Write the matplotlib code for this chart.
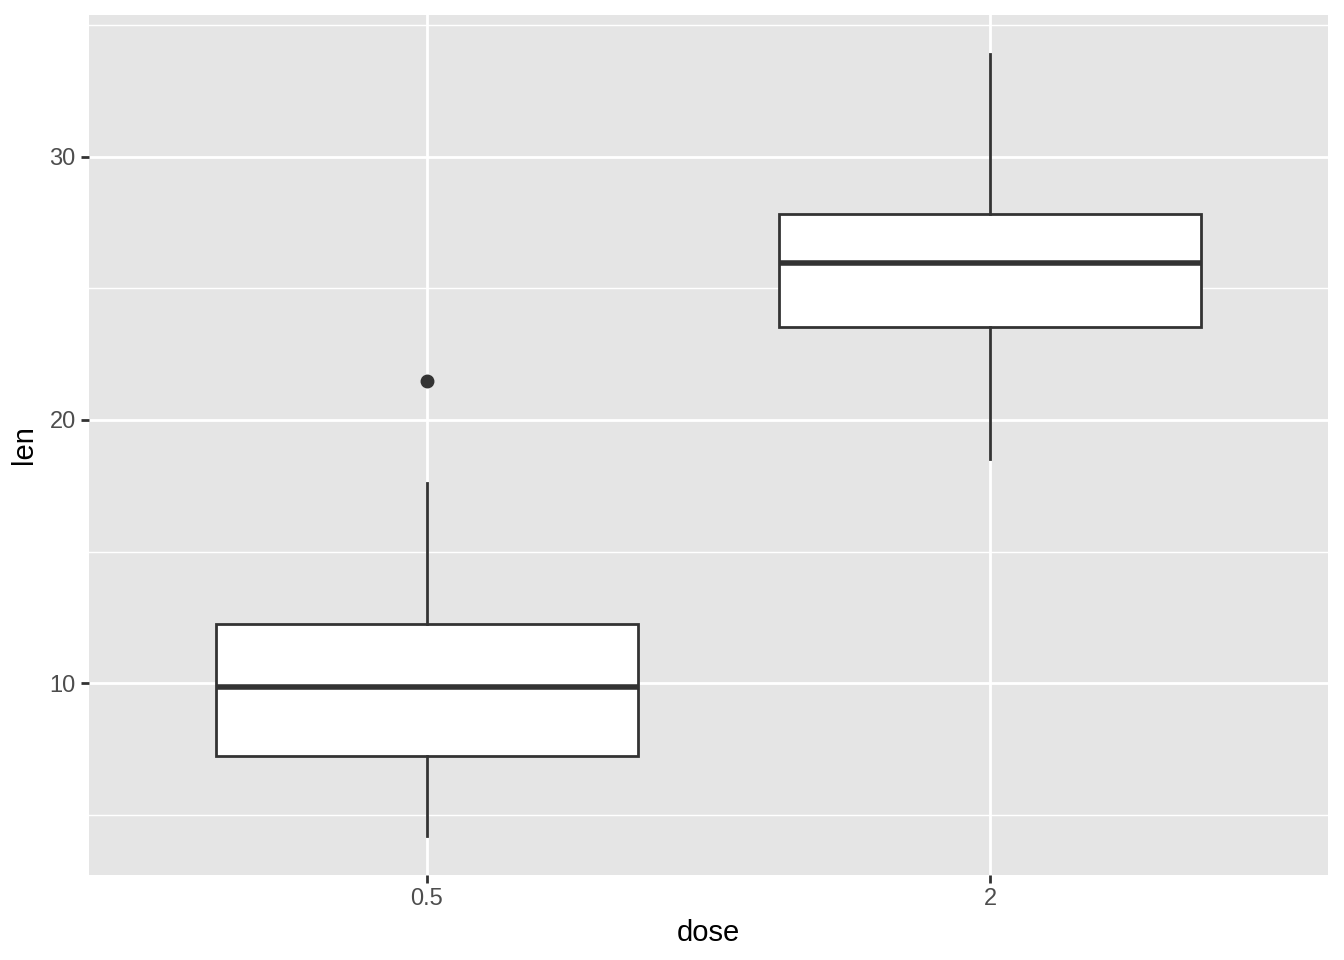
import matplotlib
matplotlib.use("Agg")
import matplotlib.pyplot as plt
import numpy as np

# ToothGrowth lengths by dose
dose_labels = ["0.5", "2"]
len_dose_05 = [4.2, 11.5, 7.3, 5.8, 6.4, 10.0, 11.2, 11.2, 5.2, 7.0,
               15.2, 21.5, 17.6, 9.7, 14.5, 10.0, 8.2, 9.4, 16.5, 9.7]
len_dose_2 = [23.6, 18.5, 33.9, 25.5, 26.4, 32.5, 26.7, 21.5, 23.3, 29.5,
              25.5, 26.4, 22.4, 24.5, 24.8, 30.9, 26.4, 27.3, 29.4, 23.0]
y_ticks = [10, 20, 30]
y_minor = [5, 15, 25, 35]

plt.rcParams['font.family'] = ['Liberation Sans', 'DejaVu Sans']

fig = plt.figure(figsize=(13.44, 9.6), dpi=100)
ax = fig.add_axes([89/1344, 1 - 875/960, (1328-89)/1344, (875-15)/960])
ax.set_facecolor("#E5E5E5")
for s in ax.spines.values():
    s.set_visible(False)

data = [len_dose_05, len_dose_2]

ax.boxplot(data, positions=[1, 2], widths=0.75, whis=1.5, patch_artist=True,
           boxprops=dict(facecolor="white", edgecolor="#333333", linewidth=2.0),
           medianprops=dict(color="#333333", linewidth=4.0, solid_capstyle="butt"),
           whiskerprops=dict(color="#333333", linewidth=2.0),
           capprops=dict(linewidth=0),
           showcaps=False,
           flierprops=dict(marker="o", markerfacecolor="#333333", markeredgecolor="#333333",
                           markersize=9))

allv = np.concatenate(data)
rng = allv.max() - allv.min()
ax.set_ylim(allv.min() - 0.05 * rng, allv.max() + 0.05 * rng)
ax.set_xlim(0.4, 2.6)

ax.set_yticks(y_ticks)
ax.set_yticks(y_minor, minor=True)
ax.set_xticks([1, 2])
ax.set_xticklabels(dose_labels)
ax.grid(which="major", color="white", linewidth=2.0)
ax.grid(which="minor", axis="y", color="white", linewidth=1.0)
ax.set_axisbelow(True)

ax.tick_params(axis="both", which="major", length=5.5, width=2.0, color="#333333",
               labelcolor="#4D4D4D", labelsize=17, pad=4)
ax.tick_params(axis="both", which="minor", length=0)
ax.set_xlabel("dose", fontsize=21, color="black", labelpad=6)
ax.set_ylabel("len", fontsize=21, color="black", labelpad=8)

fig.savefig("out.png", dpi=100, facecolor="white")
